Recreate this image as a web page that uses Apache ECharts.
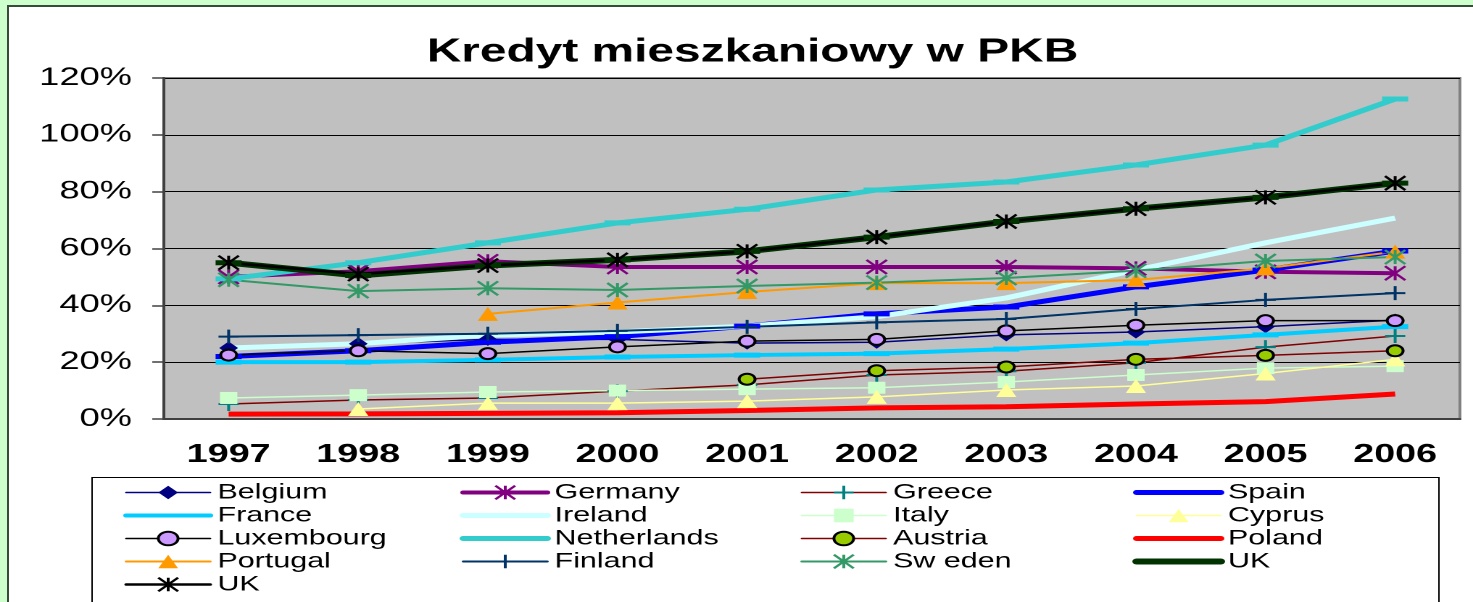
<!DOCTYPE html>
<html>
<head>
<meta charset="utf-8">
<script src="https://cdn.jsdelivr.net/npm/echarts@6/dist/echarts.min.js"></script>
<style>
  html, body { margin: 0; padding: 0; width: 1473px; height: 602px; overflow: hidden; background: #CCFFCC; }
  #frame { position: absolute; left: 7px; top: 5px; width: 1480px; height: 610px; background: #fff; border: 2px solid #3a4a3a; }
  /* the original picture is stretched sideways, so the chart is drawn narrow and widened */
  #main { position: absolute; left: 0; top: 0; width: 1016px; height: 602px; transform: scaleX(1.4498); transform-origin: 0 0; }
</style>
</head>
<body>
<div id="frame"></div>
<div id="main"></div>
<script>
var years = ['1997', '1998', '1999', '2000', '2001', '2002', '2003', '2004', '2005', '2006'];

var belgium     = [25, 26.5, 28, 28, 26.7, 27, 29.6, 30.6, 32.5, 34.8];
var germany     = [50, 52, 55.5, 53.5, 53.5, 53.5, 53.5, 53, 51.8, 51.3];
var greece      = [5.3, 6.7, 7.4, 9.8, 12, 15.5, 16.8, 19.8, 25.3, 29.2];
var spain       = [22, 24, 27, 29, 32.7, 37, 39.4, 46.5, 52.4, 59.1];
var france      = [20, 20, 20.8, 21.8, 22.5, 23, 24.6, 26.7, 29.6, 32.5];
var ireland     = [25, 26.5, 29.5, 30.6, 32.7, 36, 42.6, 52.4, 62, 70.7];
var italy       = [7.4, 8.4, 9.5, 10, 10.5, 11, 13, 15.5, 17.9, 18.6];
var cyprus      = [null, 3.5, 5.6, 5.6, 6.3, 7.8, 10.2, 11.6, 16, 21];
var luxembourg  = [22.5, 24, 23, 25.4, 27.4, 28, 31, 33, 34.6, 34.6];
var netherlands = [49.3, 55, 62, 69, 73.8, 80.6, 83.4, 89.4, 96.4, 112.6];
var austria     = [null, null, null, null, 14, 17, 18.3, 21, 22.4, 24];
var poland      = [1.7, 1.8, 2, 2.2, 3, 3.9, 4.3, 5.3, 6.1, 8.8];
var portugal    = [null, null, 37, 41, 44.7, 47.8, 47.8, 48.9, 53, 58.9];
var finland     = [29, 29.5, 30, 31, 32.4, 34, 35.2, 38.7, 41.9, 44.3];
var sweden      = [49, 45, 46, 45.4, 46.8, 48, 49.6, 52.2, 55.6, 57];
var ukLoans     = [55, 50.5, 54, 56, 59, 64, 69.5, 74, 78, 83];
var ukStars     = [55, 51, 54, 56, 59, 64, 69.5, 74, 78, 83];

var STAR = 'path://M0,0L10,10M10,0L0,10M5,0L5,10';
var PLUS = 'path://M5,0L5,10M0,5L10,5';
var FONT = 'Liberation Sans, Arial, sans-serif';

function line(name, data, lineColor, width, symbol, size, fill, border, borderW) {
    return {
        name: name,
        type: 'line',
        data: data,
        symbol: symbol,
        symbolSize: size,
        connectNulls: false,
        lineStyle: { color: lineColor, width: width },
        itemStyle: { color: fill, borderColor: border || fill, borderWidth: borderW || 0 },
        emphasis: { disabled: true }
    };
}

var series = [
    line('Belgium', belgium, '#000080', 1.5, 'diamond', 13, '#000080'),
    line('Germany', germany, '#800080', 4, STAR, 14, '#800080', '#800080', 2),
    line('Greece', greece, '#800000', 1.5, PLUS, 14, '#008080', '#008080', 2),
    line('Spain', spain, '#0000FF', 5, 'rect', [18, 5], '#0000FF'),
    line('France', france, '#00CCFF', 4, 'rect', [18, 5], '#00CCFF'),
    line('Ireland', ireland, '#CCFFFF', 5, 'none', 1, '#CCFFFF'),
    line('Italy', italy, '#CCFFCC', 1.5, 'rect', 12, '#CCFFCC'),
    line('Cyprus', cyprus, '#FFFF99', 1.5, 'triangle', 14, '#FFFF99'),
    line('Luxembourg', luxembourg, '#000000', 1.5, 'circle', 11, '#CC99FF', '#000000', 2),
    line('Netherlands', netherlands, '#33CCCC', 5, 'rect', [18, 5], '#33CCCC'),
    line('Austria', austria, '#800000', 1.5, 'circle', 11, '#99CC00', '#000000', 2),
    line('Poland', poland, '#FF0000', 5, 'none', 1, '#FF0000'),
    line('Portugal', portugal, '#FF9900', 2, 'triangle', 14, '#FF9900'),
    line('Finland', finland, '#003366', 2, PLUS, 14, '#003366', '#003366', 2),
    line('Sw eden', sweden, '#339966', 2, STAR, 14, '#339966', '#339966', 2),
    line('UK', ukLoans, '#003300', 6, 'rect', [18, 5], '#003300'),
    line('UK ', ukStars, '#000000', 2.5, STAR, 14, '#000000', '#000000', 2)
];

var legendCols = [
    { left: 85, names: ['Belgium', 'France', 'Luxembourg', 'Portugal', 'UK '] },
    { left: 317, names: ['Germany', 'Ireland', 'Netherlands', 'Finland'] },
    { left: 552, names: ['Greece', 'Italy', 'Austria', 'Sw eden'] },
    { left: 781, names: ['Spain', 'Cyprus', 'Poland', 'UK'] }
];
var noMarker = ['France', 'Spain', 'Netherlands', 'UK', 'Ireland', 'Poland'];

function widthOf(name) {
    for (var i = 0; i < series.length; i++) {
        if (series[i].name === name) return series[i].lineStyle.width;
    }
    return 1;
}

var legends = legendCols.map(function (col) {
    return {
        orient: 'vertical',
        left: col.left,
        top: 482,
        padding: 0,
        itemWidth: 58,
        itemHeight: 17,
        itemGap: 2,
        selectedMode: false,
        textStyle: { fontFamily: FONT, fontSize: 21, color: '#000' },
        data: col.names.map(function (n) {
            var item = { name: n, lineStyle: { width: widthOf(n), cap: 'round' } };
            if (noMarker.indexOf(n) >= 0) item.itemStyle = { opacity: 0 };
            return item;
        })
    };
});

var myChart = echarts.init(document.getElementById('main'), null, { devicePixelRatio: 2 });

myChart.setOption({
    animation: false,
    title: {
        text: 'Kredyt mieszkaniowy w PKB',
        left: 514,
        textAlign: 'center',
        top: 31,
        textStyle: { fontFamily: FONT, fontSize: 33, fontWeight: 'bold', color: '#000' }
    },
    legend: legends,
    graphic: [{
        type: 'rect',
        left: 61,
        top: 475,
        shape: { width: 929, height: 160 },
        style: { fill: 'none', stroke: '#000', lineWidth: 1 },
        z: -1
    }],
    grid: {
        left: 113,
        right: 9,
        top: 78,
        bottom: 183,
        show: true,
        backgroundColor: '#C0C0C0',
        borderColor: '#808080',
        borderWidth: 2
    },
    xAxis: {
        type: 'category',
        data: years,
        boundaryGap: true,
        axisLine: { lineStyle: { color: '#404040', width: 2 } },
        axisTick: { length: 8, lineStyle: { color: '#404040', width: 1.5 } },
        axisLabel: { fontFamily: FONT, fontSize: 26, fontWeight: 'bold', color: '#000', margin: 23 }
    },
    yAxis: {
        type: 'value',
        min: 0,
        max: 120,
        interval: 20,
        axisLine: { show: true, lineStyle: { color: '#404040', width: 2 } },
        axisTick: { show: true, length: 8, lineStyle: { color: '#404040', width: 1.5 } },
        axisLabel: { fontFamily: FONT, fontSize: 25, color: '#000', margin: 22, formatter: '{value}%' },
        splitLine: { lineStyle: { color: '#000', width: 1 } }
    },
    series: series
});
</script>
</body>
</html>
